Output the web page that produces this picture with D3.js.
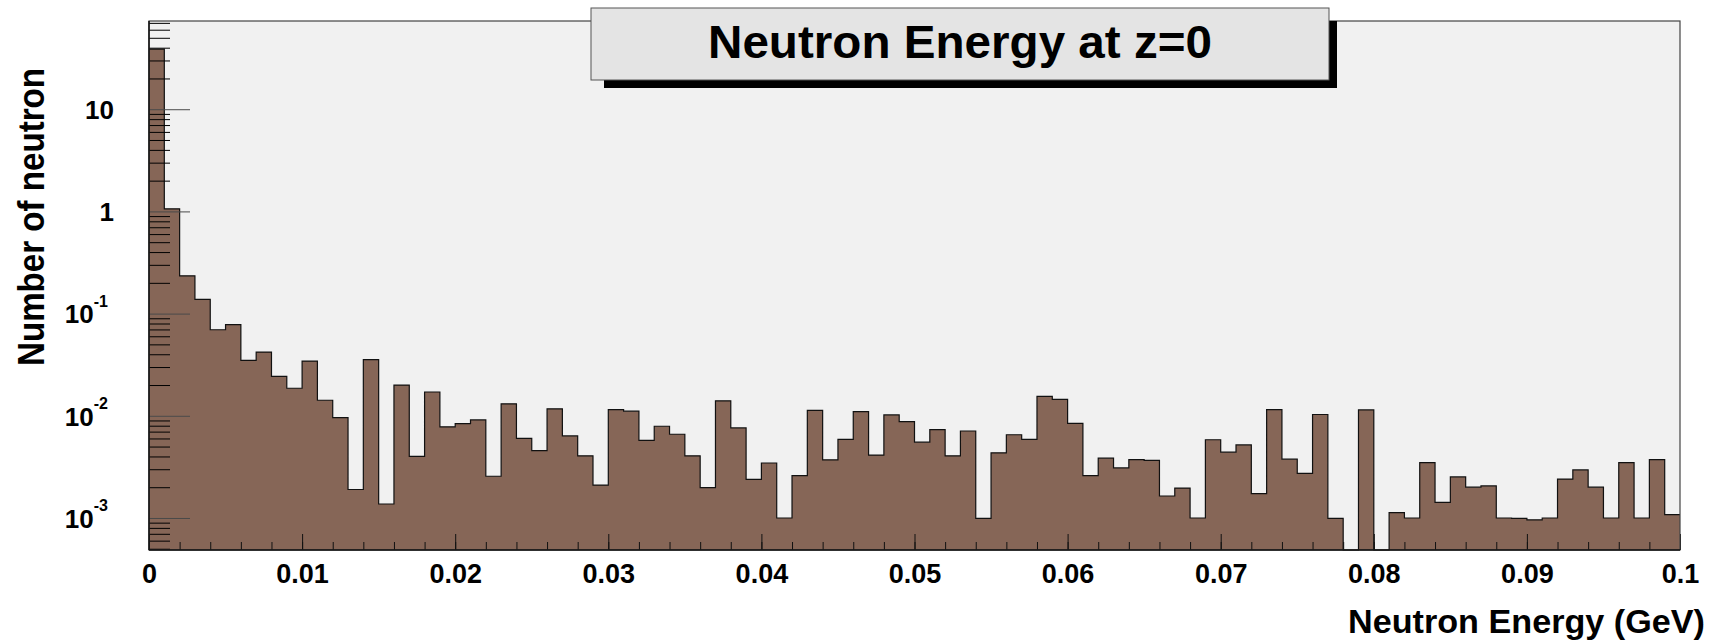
<!DOCTYPE html>
<html>
<head>
<meta charset="utf-8">
<script src="https://cdn.jsdelivr.net/npm/d3@7/dist/d3.min.js"></script>
<style>
  body { margin: 0; background: #fff; }
  svg { display: block; font-family: "Liberation Sans", Arial, Helvetica, sans-serif; font-weight: bold; }
</style>
</head>
<body>
<div id="chart"></div>
<script>
// histogram bins: lower edges (GeV), width 0.001
const binEdges = [
  0.000, 0.001, 0.002, 0.003, 0.004, 0.005, 0.006, 0.007, 0.008, 0.009,
  0.010, 0.011, 0.012, 0.013, 0.014, 0.015, 0.016, 0.017, 0.018, 0.019,
  0.020, 0.021, 0.022, 0.023, 0.024, 0.025, 0.026, 0.027, 0.028, 0.029,
  0.030, 0.031, 0.032, 0.033, 0.034, 0.035, 0.036, 0.037, 0.038, 0.039,
  0.040, 0.041, 0.042, 0.043, 0.044, 0.045, 0.046, 0.047, 0.048, 0.049,
  0.050, 0.051, 0.052, 0.053, 0.054, 0.055, 0.056, 0.057, 0.058, 0.059,
  0.060, 0.061, 0.062, 0.063, 0.064, 0.065, 0.066, 0.067, 0.068, 0.069,
  0.070, 0.071, 0.072, 0.073, 0.074, 0.075, 0.076, 0.077, 0.078, 0.079,
  0.080, 0.081, 0.082, 0.083, 0.084, 0.085, 0.086, 0.087, 0.088, 0.089,
  0.090, 0.091, 0.092, 0.093, 0.094, 0.095, 0.096, 0.097, 0.098, 0.099
];
const binWidth = 0.001;

// bin contents (0 = empty bin)
const counts = [
  38.8, 1.06, 0.234, 0.138, 0.0695, 0.078, 0.0348, 0.042, 0.0243, 0.0186,
  0.0343, 0.0142, 0.0096, 0.0019, 0.0354, 0.00137, 0.0200, 0.0040, 0.0171, 0.0078,
  0.0084, 0.0091, 0.00256, 0.0131, 0.0060, 0.00457, 0.0117, 0.00635, 0.00406, 0.0021,
  0.0115, 0.0111, 0.00574, 0.0079, 0.0066, 0.00406, 0.00198, 0.0140, 0.0076, 0.00239,
  0.00345, 0.0010, 0.0026, 0.0113, 0.00371, 0.00588, 0.0110, 0.00413, 0.0102, 0.00877,
  0.00552, 0.00733, 0.00406, 0.0071, 0.00099, 0.00434, 0.00652, 0.00588, 0.0155, 0.0145,
  0.00843, 0.0026, 0.00385, 0.00309, 0.00373, 0.00367, 0.00164, 0.00196, 0.0010, 0.00583,
  0.0044, 0.00519, 0.00173, 0.0115, 0.00376, 0.00273, 0.0103, 0.00099, 0, 0.0114,
  0, 0.00113, 0.0010, 0.00348, 0.00142, 0.00252, 0.0020, 0.00206, 0.0010, 0.00099,
  0.00096, 0.0010, 0.0024, 0.00295, 0.0020, 0.0010, 0.00348, 0.0010, 0.00373, 0.00108
];

const xTicks = [0, 0.01, 0.02, 0.03, 0.04, 0.05, 0.06, 0.07, 0.08, 0.09, 0.1];
const xTickLabels = ["0", "0.01", "0.02", "0.03", "0.04", "0.05", "0.06", "0.07", "0.08", "0.09", "0.1"];
const yTicks = [0.001, 0.01, 0.1, 1, 10];
const yTickLabels = [["10", "-3"], ["10", "-2"], ["10", "-1"], ["1", ""], ["10", ""]];

const titleText = "Neutron Energy at z=0";
const xTitle = "Neutron Energy (GeV)";
const yTitle = "Number of neutron";

const width = 1719, height = 641;
const frame = { left: 149, right: 1680, top: 21, bottom: 550 };
const yMin = 4.86e-4, yMax = 73;

const svg = d3.select("#chart").append("svg")
  .attr("width", width)
  .attr("height", height);

const x = d3.scaleLinear().domain([0, 0.1]).range([frame.left, frame.right]);
const y = d3.scaleLog().domain([yMin, yMax]).range([frame.bottom, frame.top]);

// frame background
svg.append("rect")
  .attr("x", frame.left).attr("y", frame.top)
  .attr("width", frame.right - frame.left).attr("height", frame.bottom - frame.top)
  .attr("fill", "#f1f1f1");

// histogram as step area + outline
const steps = binEdges.map((e, i) => ({ x: e, v: counts[i] }));
steps.push({ x: binEdges[binEdges.length - 1] + binWidth, v: counts[counts.length - 1] });
const yv = v => y(Math.max(v, yMin));

svg.append("path")
  .datum(steps)
  .attr("fill", "#866657")
  .attr("d", d3.area().curve(d3.curveStepAfter)
    .x(d => x(d.x)).y0(frame.bottom).y1(d => yv(d.v)));

svg.append("path")
  .datum(steps)
  .attr("fill", "none")
  .attr("stroke", "#111")
  .attr("stroke-width", 1.2)
  .attr("d", d3.line().curve(d3.curveStepAfter).x(d => x(d.x)).y(d => yv(d.v)));

// x axis: minor and major ticks drawn inward
const xMinor = d3.range(0, 0.1001, 0.002);
svg.append("g")
  .attr("transform", `translate(0,${frame.bottom})`)
  .call(d3.axisBottom(x).tickValues(xMinor).tickSize(-8).tickSizeOuter(0).tickFormat(""))
  .call(g => g.select(".domain").remove())
  .call(g => g.selectAll("line").attr("stroke", "#111"));

svg.append("g")
  .attr("transform", `translate(0,${frame.bottom})`)
  .call(d3.axisBottom(x).tickValues(xTicks).tickSize(-16).tickSizeOuter(0).tickPadding(14)
    .tickFormat((d, i) => xTickLabels[i]))
  .call(g => g.select(".domain").remove())
  .call(g => g.selectAll("line").attr("stroke", "#111"))
  .call(g => g.selectAll("text")
    .attr("font-size", 27).attr("font-family", null).attr("fill", "#000"));

// y axis: log ticks drawn inward
const yMinor = [];
for (let k = -4; k <= 1; k++) {
  for (let m = 2; m <= 9; m++) {
    const v = m * Math.pow(10, k);
    if (v > yMin && v < yMax) yMinor.push(v);
  }
}
svg.append("g")
  .attr("transform", `translate(${frame.left},0)`)
  .call(d3.axisLeft(y).tickValues(yMinor).tickSize(-21).tickSizeOuter(0).tickFormat(""))
  .call(g => g.select(".domain").remove())
  .call(g => g.selectAll("line").attr("stroke", "#000"));

const yAxisG = svg.append("g")
  .attr("transform", `translate(${frame.left},0)`)
  .call(d3.axisLeft(y).tickValues(yTicks).tickSize(-41).tickSizeOuter(0).tickPadding(36).tickFormat(""))
  .call(g => g.select(".domain").remove())
  .call(g => g.selectAll("line").attr("stroke", "#4a4a4a"));

yAxisG.selectAll(".tick text")
  .attr("font-family", null)
  .attr("fill", "#000")
  .attr("dy", "0.36em")
  .each(function (d, i) {
    const t = d3.select(this);
    const [base, exp] = yTickLabels[i];
    t.attr("font-size", 26);
    if (exp) {
      t.attr("x", -(frame.left - 108));
      t.append("tspan").text(base);
      t.append("tspan").attr("font-size", 16).attr("dy", -16.5).text(exp);
    } else {
      t.attr("x", -(frame.left - 114));
      t.text(base);
    }
  });

// frame border
svg.append("rect")
  .attr("x", frame.left).attr("y", frame.top)
  .attr("width", frame.right - frame.left).attr("height", frame.bottom - frame.top)
  .attr("fill", "none").attr("stroke", "#444").attr("stroke-width", 1.2);
svg.append("line")
  .attr("x1", frame.left).attr("x2", frame.left)
  .attr("y1", frame.top).attr("y2", frame.bottom)
  .attr("stroke", "#111").attr("stroke-width", 1.5);
svg.append("line")
  .attr("x1", frame.left).attr("x2", frame.right)
  .attr("y1", frame.bottom).attr("y2", frame.bottom)
  .attr("stroke", "#111").attr("stroke-width", 1.5);

// axis titles
svg.append("text")
  .attr("x", 1705).attr("y", 633)
  .attr("text-anchor", "end")
  .attr("font-size", 34)
  .attr("textLength", 357).attr("lengthAdjust", "spacingAndGlyphs")
  .text(xTitle);

svg.append("text")
  .attr("transform", "translate(44,68) rotate(-90)")
  .attr("text-anchor", "end")
  .attr("font-size", 37)
  .attr("textLength", 298).attr("lengthAdjust", "spacingAndGlyphs")
  .text(yTitle);

// title box with shadow
const box = { x0: 591, x1: 1329, y0: 8, y1: 80 };
svg.append("rect")
  .attr("x", box.x0 + 13).attr("y", box.y0 + 13)
  .attr("width", box.x1 - box.x0 - 5).attr("height", box.y1 - box.y0 - 5)
  .attr("fill", "#000");
svg.append("rect")
  .attr("x", box.x0).attr("y", box.y0)
  .attr("width", box.x1 - box.x0).attr("height", box.y1 - box.y0)
  .attr("fill", "#e4e4e4").attr("stroke", "#555").attr("stroke-width", 1);
svg.append("text")
  .attr("x", (box.x0 + box.x1) / 2).attr("y", 58)
  .attr("text-anchor", "middle")
  .attr("font-size", 47)
  .attr("textLength", 504).attr("lengthAdjust", "spacingAndGlyphs")
  .text(titleText);
</script>
</body>
</html>
